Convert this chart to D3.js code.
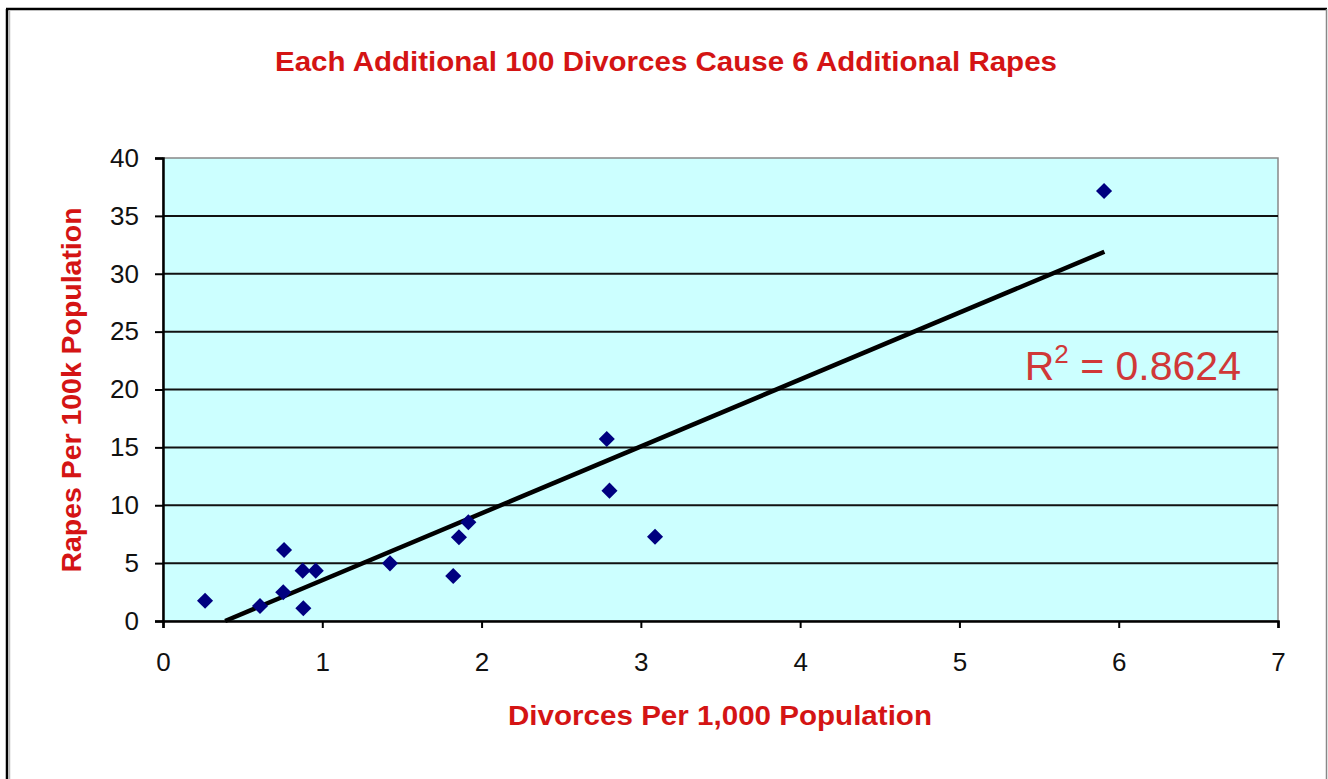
<!DOCTYPE html>
<html>
<head>
<meta charset="utf-8">
<script src="https://cdn.jsdelivr.net/npm/d3@7"></script>
<style>
  body { margin: 0; background: #fff; }
  text { font-family: Arial, "Liberation Sans", sans-serif; }
</style>
</head>
<body>
<div class="chart"></div>
<script>
// values
var divorces = [0.264, 0.609, 0.760, 0.755, 0.877, 0.959, 0.881, 1.425, 1.822, 1.858, 1.917, 2.786, 2.803, 3.089, 5.908];
var rapes    = [1.75, 1.30, 6.13, 2.48, 4.35, 4.35, 1.10, 4.98, 3.89, 7.23, 8.53, 15.72, 11.26, 7.28, 37.15];
var trendX = [0.39, 5.91];
var trendY = [0, 31.9];
var xTicks = [0, 1, 2, 3, 4, 5, 6, 7];
var yTicks = [0, 5, 10, 15, 20, 25, 30, 35, 40];
var rSquared = "0.8624";

var width = 1328, height = 779;
var margin = {top: 158, right: 50, bottom: 158, left: 163};
var w = width - margin.left - margin.right,
    h = height - margin.top - margin.bottom;

var svg = d3.select("div.chart").append("svg")
    .attr("width", width)
    .attr("height", height);

// outer frame
svg.append("line").attr("x1", 7).attr("y1", 9).attr("x2", 7).attr("y2", height)
    .attr("stroke", "#000").attr("stroke-width", 2.5);
svg.append("line").attr("x1", 9.5).attr("y1", 11).attr("x2", 9.5).attr("y2", height)
    .attr("stroke", "#bbb").attr("stroke-width", 1.5);
svg.append("line").attr("x1", 6).attr("y1", 9).attr("x2", 1327).attr("y2", 9)
    .attr("stroke", "#000").attr("stroke-width", 2.5);
svg.append("line").attr("x1", 1326.5).attr("y1", 9).attr("x2", 1326.5).attr("y2", height)
    .attr("stroke", "#888").attr("stroke-width", 1.5);

var g = svg.append("g").attr("transform", "translate(" + margin.left + "," + margin.top + ")");

var x = d3.scaleLinear().domain([0, 7]).range([0, w]);
var y = d3.scaleLinear().domain([0, 40]).range([h, 0]);

g.append("rect")
    .attr("width", w)
    .attr("height", h)
    .attr("fill", "#ccffff")
    .attr("stroke", "#888")
    .attr("stroke-width", 1.5);

g.selectAll("line.grid")
    .data(yTicks.filter(function(d) { return d > 0 && d < 40; }))
  .enter().append("line")
    .attr("class", "grid")
    .attr("x1", 0).attr("x2", w)
    .attr("y1", function(d) { return y(d); })
    .attr("y2", function(d) { return y(d); })
    .attr("stroke", "#111")
    .attr("stroke-width", 2);

var xAxis = g.append("g")
    .attr("transform", "translate(0," + h + ")")
    .call(d3.axisBottom(x).tickValues(xTicks).tickSize(7).tickPadding(25).tickFormat(d3.format("d")));
var yAxis = g.append("g")
    .call(d3.axisLeft(y).tickValues(yTicks).tickSize(8).tickPadding(16).tickFormat(d3.format("d")));

[xAxis, yAxis].forEach(function(a) {
  a.select(".domain").attr("stroke", "#000").attr("stroke-width", 2.5);
  a.selectAll(".tick line").attr("stroke", "#000").attr("stroke-width", 2);
  a.selectAll(".tick text")
      .attr("fill", "#111")
      .style("font-family", "Arial, 'Liberation Sans', sans-serif")
      .style("font-size", "26px");
});

// trend line
var line = d3.line()
    .x(function(d) { return x(d[0]); })
    .y(function(d) { return y(d[1]); });
g.append("path")
    .datum(d3.zip(trendX, trendY))
    .attr("fill", "none")
    .attr("stroke", "#000")
    .attr("stroke-width", 4.5)
    .attr("d", line);

// points
var pts = d3.zip(divorces, rapes);
g.selectAll("path.pt")
    .data(pts)
  .enter().append("path")
    .attr("class", "pt")
    .attr("transform", function(d) { return "translate(" + x(d[0]) + "," + y(d[1]) + ")"; })
    .attr("d", d3.symbol().type(d3.symbolDiamond2).size(165))
    .attr("fill", "#000080");

// R squared label
var rl = g.append("text")
    .attr("x", x(5.41))
    .attr("y", y(20.85))
    .attr("fill", "#d03838")
    .style("font-size", "41px");
rl.append("tspan").text("R");
rl.append("tspan").attr("dy", -17).style("font-size", "26px").text("2");
rl.append("tspan").attr("dy", 17).text(" = " + rSquared);

// titles
svg.append("text")
    .attr("x", 666).attr("y", 71)
    .attr("text-anchor", "middle")
    .attr("fill", "#d41414")
    .attr("font-weight", "bold")
    .attr("textLength", 782)
    .attr("lengthAdjust", "spacingAndGlyphs")
    .style("font-size", "27px")
    .text("Each Additional 100 Divorces Cause 6 Additional Rapes");

svg.append("text")
    .attr("x", 720).attr("y", 725)
    .attr("text-anchor", "middle")
    .attr("fill", "#d41414")
    .attr("font-weight", "bold")
    .attr("textLength", 424)
    .attr("lengthAdjust", "spacingAndGlyphs")
    .style("font-size", "27px")
    .text("Divorces Per 1,000 Population");

svg.append("text")
    .attr("transform", "translate(81,390) rotate(-90)")
    .attr("text-anchor", "middle")
    .attr("fill", "#d41414")
    .attr("font-weight", "bold")
    .attr("textLength", 365)
    .attr("lengthAdjust", "spacingAndGlyphs")
    .style("font-size", "27px")
    .text("Rapes Per 100k Population");
</script>
</body>
</html>
